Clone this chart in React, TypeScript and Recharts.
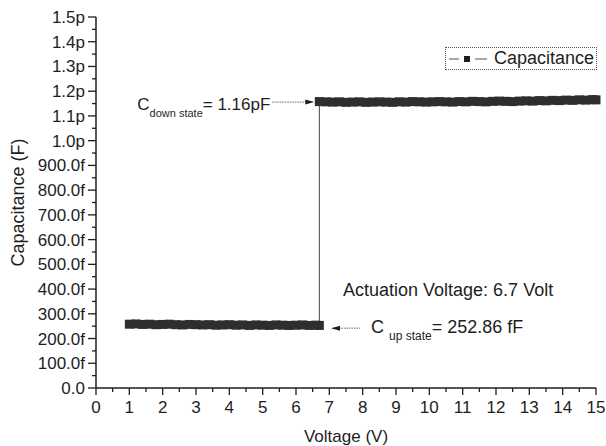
import React from "react";
import { LineChart, Line, XAxis, YAxis, ReferenceDot, Legend } from "recharts";

// up state (before pull-in)
const lowVoltage = [1.0, 1.2, 1.4, 1.6, 1.8, 2.0, 2.2, 2.4, 2.6, 2.8, 3.0, 3.2, 3.4, 3.6, 3.8, 4.0, 4.2, 4.4, 4.6, 4.8, 5.0, 5.2, 5.4, 5.6, 5.8, 6.0, 6.2, 6.4, 6.6, 6.7];
const lowCap = [258, 259, 257, 258, 256, 257, 258, 256, 255, 257, 256, 255, 256, 254, 255, 256, 254, 255, 253, 255, 254, 253, 255, 254, 253, 254, 255, 253, 254, 253];

// down state (after pull-in)
const highVoltage = [6.7, 6.9, 7.1, 7.3, 7.5, 7.7, 7.9, 8.1, 8.3, 8.5, 8.7, 8.9, 9.1, 9.3, 9.5, 9.7, 9.9, 10.1, 10.3, 10.5, 10.7, 10.9, 11.1, 11.3, 11.5, 11.7, 11.9, 12.1, 12.3, 12.5, 12.7, 12.9, 13.1, 13.3, 13.5, 13.7, 13.9, 14.1, 14.3, 14.5, 14.7, 14.9, 15.0];
const highCap = [1158, 1157, 1156, 1157, 1155, 1156, 1157, 1155, 1156, 1157, 1156, 1155, 1157, 1156, 1158, 1157, 1156, 1157, 1158, 1157, 1156, 1158, 1157, 1159, 1158, 1157, 1159, 1160, 1159, 1158, 1160, 1161, 1160, 1162, 1161, 1163, 1162, 1164, 1163, 1165, 1164, 1166, 1165];

const xMajor = [0, 1, 2, 3, 4, 5, 6, 7, 8, 9, 10, 11, 12, 13, 14, 15];
const xMinor = [0.5, 1.5, 2.5, 3.5, 4.5, 5.5, 6.5, 7.5, 8.5, 9.5, 10.5, 11.5, 12.5, 13.5, 14.5];
const yMajor = [0, 100, 200, 300, 400, 500, 600, 700, 800, 900, 1000, 1100, 1200, 1300, 1400, 1500];
const yLabels = ["0.0", "100.0f", "200.0f", "300.0f", "400.0f", "500.0f", "600.0f", "700.0f", "800.0f", "900.0f", "1.0p", "1.1p", "1.2p", "1.3p", "1.4p", "1.5p"];
const yMinor = [50, 150, 250, 350, 450, 550, 650, 750, 850, 950, 1050, 1150, 1250, 1350, 1450];

const data = [
  ...lowVoltage.map((v, i) => ({ v, c: lowCap[i] })),
  ...highVoltage.map((v, i) => ({ v, c: highCap[i] })),
];

const FONT = '"Liberation Sans", Arial, sans-serif';
const INK = "#1e1e1e";

function XTick(props: any) {
  const { x, y, payload } = props;
  const major = xMajor.includes(payload.value);
  return (
    <g>
      <line x1={x} x2={x} y1={y} y2={y + (major ? 7 : 4)} stroke={INK} strokeWidth={1.3} />
      {major && (
        <text x={x} y={y + 25} textAnchor="middle" fontSize={17} fontFamily={FONT} fill={INK}>
          {payload.value}
        </text>
      )}
    </g>
  );
}

function YTick(props: any) {
  const { x, y, payload } = props;
  const idx = yMajor.indexOf(payload.value);
  const major = idx >= 0;
  return (
    <g>
      <line x1={x} x2={x - (major ? 8 : 4)} y1={y} y2={y} stroke={INK} strokeWidth={1.3} />
      {major && (
        <text x={x - 11} y={y + 6} textAnchor="end" fontSize={17} fontFamily={FONT} fill={INK}>
          {yLabels[idx]}
        </text>
      )}
    </g>
  );
}

function Square(props: any) {
  const { cx, cy, index } = props;
  if (cx == null || cy == null) return <g key={index} />;
  return <rect key={index} x={cx - 4.5} y={cy - 4.5} width={9} height={9} fill="#2e2e2e" />;
}

function DownNote(props: any) {
  const { cx, cy } = props;
  return (
    <g fontFamily={FONT} fill={INK}>
      <line x1={cx - 42} x2={cx - 8} y1={cy + 1} y2={cy + 1} stroke="#666" strokeWidth={1} strokeDasharray="1.5 1" />
      <polygon points={`${cx},${cy + 1} ${cx - 9},${cy - 1.5} ${cx - 9},${cy + 3.5}`} fill={INK} />
      <text x={cx - 44} y={cy + 9} textAnchor="end" fontSize={17}>
        <tspan>C</tspan>
        <tspan fontSize={11} dy={7}>down state</tspan>
        <tspan dy={-7}>= 1.16pF</tspan>
      </text>
    </g>
  );
}

function UpNote(props: any) {
  const { cx, cy } = props;
  return (
    <g fontFamily={FONT} fill={INK}>
      <text x={cx + 12} y={cy - 30} fontSize={18}>Actuation Voltage: 6.7 Volt</text>
      <line x1={cx + 8} x2={cx + 29} y1={cy + 2} y2={cy + 2} stroke="#666" strokeWidth={1} strokeDasharray="1.5 1" />
      <polygon points={`${cx},${cy + 2} ${cx + 9},${cy - 0.5} ${cx + 9},${cy + 4.5}`} fill={INK} />
      <text x={cx + 40} y={cy + 7} fontSize={18}>
        <tspan>C </tspan>
        <tspan fontSize={12} dy={7}>up state</tspan>
        <tspan dy={-7}>= 252.86 fF</tspan>
      </text>
    </g>
  );
}

function LegendBox() {
  return (
    <div
      style={{
        width: 152,
        height: 23,
        boxSizing: "border-box",
        border: "1px dotted #555",
        display: "flex",
        alignItems: "center",
        fontFamily: FONT,
        fontSize: 18,
        color: INK,
        background: "#fff",
      }}
    >
      <svg width={48} height={20} style={{ flex: "none" }}>
        <line x1={3} x2={13} y1={10} y2={10} stroke="#555" strokeWidth={1} />
        <rect x={18} y={7} width={6} height={6} fill={INK} />
        <line x1={29} x2={41} y1={10} y2={10} stroke="#555" strokeWidth={1} />
      </svg>
      <span>Capacitance</span>
    </div>
  );
}

export default function App() {
  return (
    <div style={{ position: "absolute", left: 0, top: 0, width: 606, height: 446, background: "#fff" }}>
      <LineChart width={606} height={446} data={data} margin={{ top: 17, right: 10, bottom: 0, left: 0 }}>
        <XAxis
          type="number"
          dataKey="v"
          domain={[0, 15]}
          ticks={[...xMajor, ...xMinor].sort((a, b) => a - b)}
          interval={0}
          height={58}
          stroke={INK}
          strokeWidth={1.5}
          tickLine={false}
          tickSize={0}
          tickMargin={0}
          tick={<XTick />}
          label={{ value: "Voltage (V)", position: "insideBottom", offset: 4, fontSize: 17, fontFamily: FONT, fill: INK }}
        />
        <YAxis
          type="number"
          domain={[0, 1500]}
          ticks={[...yMajor, ...yMinor].sort((a, b) => a - b)}
          interval={0}
          width={96}
          stroke={INK}
          strokeWidth={1.5}
          tickLine={false}
          tickSize={0}
          tickMargin={0}
          tick={<YTick />}
          label={{
            value: "Capacitance (F)",
            angle: -90,
            position: "insideLeft",
            offset: 18,
            fontSize: 18,
            fontFamily: FONT,
            fill: INK,
            style: { textAnchor: "middle" },
          }}
        />
        <Legend
          layout="vertical"
          align="center"
          verticalAlign="middle"
          content={() => <LegendBox />}
          wrapperStyle={{ top: 47, left: 445, width: 152 }}
        />
        <Line
          type="linear"
          dataKey="c"
          stroke="#444"
          strokeWidth={1}
          dot={<Square />}
          activeDot={false}
          isAnimationActive={false}
        />
        <ReferenceDot x={6.55} y={1160} r={0} shape={(p: any) => <DownNote {...p} />} />
        <ReferenceDot x={7.05} y={250} r={0} shape={(p: any) => <UpNote {...p} />} />
      </LineChart>
    </div>
  );
}
